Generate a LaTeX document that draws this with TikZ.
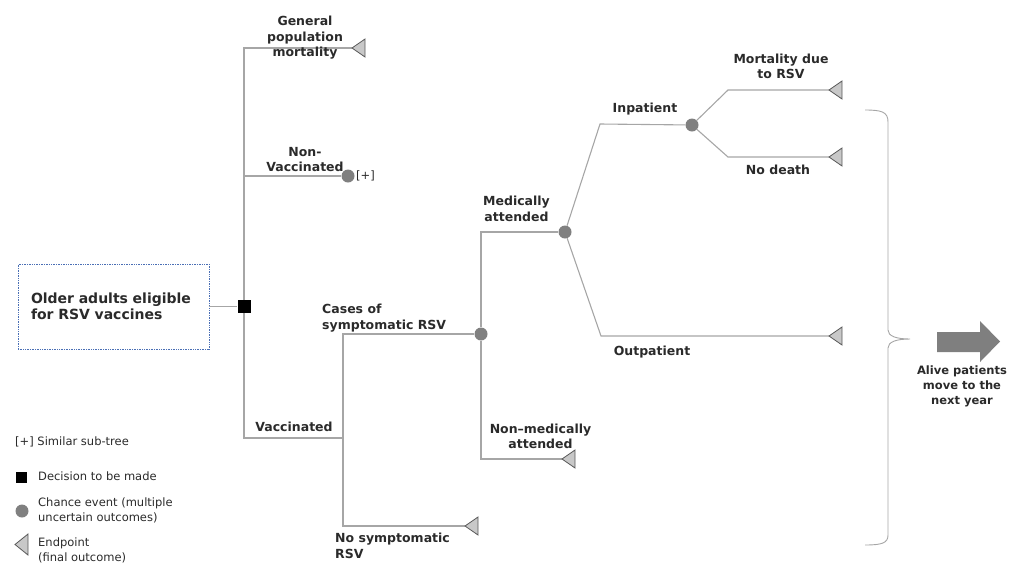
\documentclass[tikz,border=0pt]{standalone}
\usepackage{fontspec}
\setmainfont{DejaVu Sans}
\usepackage{xcolor}
\usetikzlibrary{positioning}

\definecolor{branchgray}{HTML}{A6A6A6}
\definecolor{chancegray}{HTML}{808080}
\definecolor{trifill}{HTML}{C8C8C8}
\definecolor{triedge}{HTML}{595959}
\definecolor{boxblue}{HTML}{4A6FB5}
\definecolor{txtgray}{HTML}{2A2A2A}
\definecolor{arrowgray}{HTML}{7F7F7F}

% terminal triangle, tip pointing left at #2
\newcommand{\finalpt}[2]{%
  \coordinate (#1) at #2;
  \draw[endtri] (#1) -- ++(13,-9) -- ++(0,18) -- cycle;}

\begin{document}
\begin{tikzpicture}[x=1pt, y=-1pt,
    branch/.style={branchgray, line width=1.1pt},
    chance/.style={circle, fill=chancegray, minimum size=13pt, inner sep=0pt},
    decision/.style={fill=black, minimum size=13pt, inner sep=0pt},
    endtri/.style={fill=trifill, draw=triedge, line width=0.8pt, line join=miter},
    lbl/.style={font=\bfseries\fontsize{12.5}{15.5}\selectfont, text=txtgray, align=center, inner sep=0pt},
    legendtxt/.style={font=\fontsize{11.5}{15}\selectfont, text=txtgray, align=left, inner sep=0pt, anchor=west}]
  \useasboundingbox (0,0) rectangle (1016,563);

  % root and decision
  \node[draw=boxblue, densely dotted, line width=0.7pt, minimum width=191pt, minimum height=85pt,
        text width=165pt, align=left, inner sep=0pt,
        font=\bfseries\fontsize{14}{16}\selectfont, text=txtgray] (root) at (113.5,306.5)
        {Older adults eligible\\for RSV vaccines};
  \node[decision] (dec) at (244,306.5) {};

  % chance nodes
  \node[chance] (nonvac) at (348,176) {};
  \node[chance] (cases)  at (481,334) {};
  \node[chance] (med)    at (565,232) {};
  \node[chance] (inp)    at (692,125) {};

  % corners
  \coordinate (vacj)  at (343,438);
  \coordinate (inpk)  at (600,124);
  \coordinate (outk)  at (601,336);
  \coordinate (mortk) at (728,90);
  \coordinate (nodk)  at (728,157);

  % branches
  \draw[branch] (root.east) -- (dec);
  \draw[branch] (dec) |- (352,48) coordinate (gpmend);
  \draw[branch] (dec) |- (nonvac);
  \draw[branch] (dec) |- (vacj);
  \draw[branch] (vacj) |- (cases);
  \draw[branch] (vacj) |- (465,526) coordinate (nosymend);
  \draw[branch] (cases) |- (med);
  \draw[branch] (cases) |- (562,459) coordinate (nonmedend);
  \draw[branch] (med) -- (inpk) -- (inp);
  \draw[branch] (med) -- (outk) -- (829,336) coordinate (outend);
  \draw[branch] (inp) -- (mortk) -- (829,90) coordinate (mortend);
  \draw[branch] (inp) -- (nodk) -- (829,157) coordinate (nodend);

  % terminal nodes
  \finalpt{gpm}{(gpmend)}
  \finalpt{nosym}{(nosymend)}
  \finalpt{nonmed}{(nonmedend)}
  \finalpt{outp}{(outend)}
  \finalpt{mort}{(mortend)}
  \finalpt{nod}{(nodend)}

  % branch labels
  \node[lbl] (gpmlbl)    at (305,38)    {General\\population\\mortality};
  \node[lbl] (nonvaclbl) at (305,159.5) {Non-\\Vaccinated};
  \node[legendtxt] (subtree) at (356,176) {[+]};
  \node[lbl] (vaclbl)    at (294,427)   {Vaccinated};
  \node[lbl, anchor=west, align=left] (caselbl) at (322,318) {Cases of\\symptomatic RSV};
  \node[lbl, anchor=west, align=left] (nosymlbl) at (335,546) {No symptomatic\\RSV};
  \node[lbl] (nonmedlbl) at (540.5,436.5) {Non\textendash medically\\attended};
  \node[lbl] (medlbl)    at (516.5,209)  {Medically\\attended};
  \node[lbl] (inplbl)    at (645,109)    {Inpatient};
  \node[lbl] (outlbl)    at (652,352)    {Outpatient};
  \node[lbl] (mortlbl)   at (781,66.5)   {Mortality due\\to RSV};
  \node[lbl] (nodlbl)    at (778,170)    {No death};

  % brace and next-year arrow
  \draw[branchgray, line width=0.9pt]
        (865,110) .. controls (882,110) and (888,112) .. (888,122) -- (888,330)
        .. controls (888,336) and (896,339) .. (910,339)
        .. controls (896,339) and (888,342) .. (888,348) -- (888,535)
        .. controls (888,543) and (882,545) .. (865,545);
  \fill[arrowgray] (937,332) -- (980,332) -- (980,321) -- (1000,341.5)
        -- (980,362) -- (980,352) -- (937,352) -- cycle;
  \node[lbl, font=\bfseries\fontsize{11.5}{15}\selectfont] (alive) at (962,386)
        {Alive patients\\move to the\\next year};

  % legend
  \node[legendtxt] (legsub) at (15,442) {[+] Similar sub-tree};
  \node[fill=black, minimum size=11pt, inner sep=0pt] (legdec) at (21,477) {};
  \node[legendtxt] (legdectxt) at (38,476) {Decision to be made};
  \node[chance] (legchance) at (22,511) {};
  \node[legendtxt] (legchancetxt) at (38,510.5) {Chance event (multiple\\uncertain outcomes)};
  \draw[endtri] (15,544.5) -- ++(13,-10.5) -- ++(0,21) -- cycle;
  \node[legendtxt] (legendtxt2) at (38,550) {Endpoint\\(final outcome)};
\end{tikzpicture}
\end{document}
